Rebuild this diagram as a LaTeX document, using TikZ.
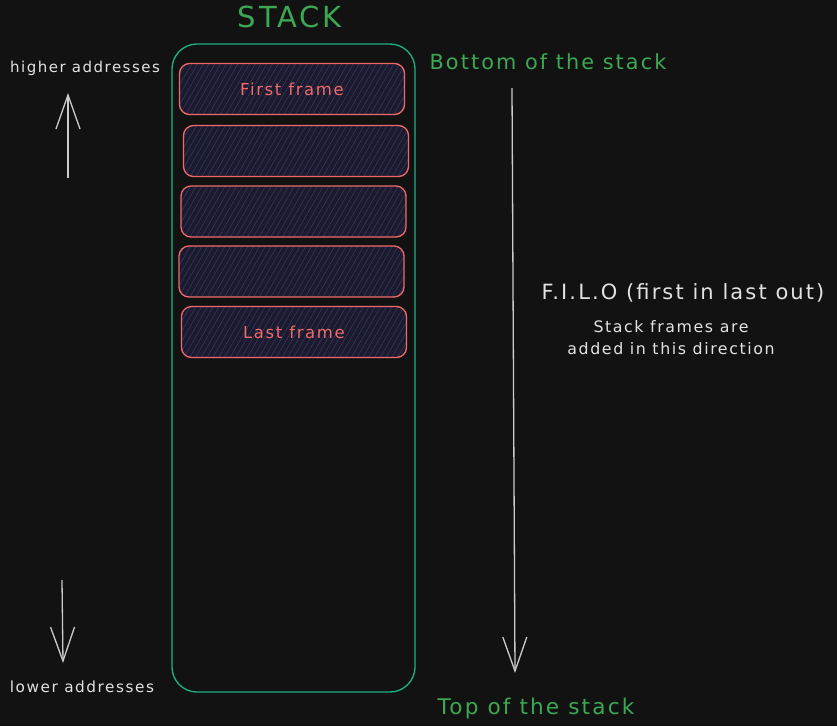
\documentclass[tikz,border=0pt]{standalone}
\usepackage{fontspec}
\setmainfont{DejaVu Sans}[LetterSpace=10]
\usetikzlibrary{arrows.meta,patterns.meta}
\definecolor{bgdark}{HTML}{121212}
\definecolor{txtlight}{HTML}{E2E2E2}
\definecolor{stackgreen}{HTML}{3DA853}
\definecolor{stackteal}{HTML}{20B386}
\definecolor{framered}{HTML}{F06A69}
\definecolor{framefill}{HTML}{1B1A2E}
\definecolor{framehatch}{HTML}{38385F}
\newcommand{\stackframe}[4]{ \node[framebox] (#1) at ( #2 , #3 ) {#4};}
\tikzset{
  framebox/.style={draw=framered, line width=1.3pt, rounded corners=10pt,
    minimum width=225pt, minimum height=51pt, inner sep=0pt,
    preaction={fill=framefill},
    pattern={Lines[angle=60,distance=5pt,line width=0.6pt]}, pattern color=framehatch,
    text=framered, font=\fontsize{16.5}{19}\selectfont},
  stackbox/.style={draw=stackteal, line width=1.3pt, rounded corners=25pt,
    minimum width=243pt, minimum height=648pt, inner sep=0pt},
  greenlabel/.style={text=stackgreen, inner sep=0pt, font=\fontsize{21}{25}\selectfont},
  whitelabel/.style={text=txtlight, inner sep=0pt, font=\fontsize{15}{18}\selectfont},
  arrowline/.style={draw=txtlight!90!black, line width=1.3pt,
    -{Straight Barb[length=34pt,width=24pt,line width=1.3pt]}}
}
\begin{document}
\begin{tikzpicture}[x=1pt,y=-1pt]
        \fill[bgdark] (0,0) rectangle (837,726);
        \useasboundingbox (0,0) rectangle (837,726);
        % stack
        \node[greenlabel, font=\fontsize{29}{33}\selectfont] (stacktitle) at (290,17) {STACK};
        \node[stackbox] (stack) at (293.5,368) {};
        % frames
        \stackframe{first}{292}{89}{First frame}
        \stackframe{second}{296}{151}{}
        \stackframe{third}{293.5}{211.5}{}
        \stackframe{fourth}{291.5}{271.5}{}
        \stackframe{last}{294}{332}{Last frame}
        % right side
        \node[greenlabel, font=\fontsize{20.8}{25}\selectfont] (bottomlbl) at (548,62) {Bottom of the stack};
        \node[greenlabel, font=\fontsize{21.6}{25}\selectfont] (toplbl) at (536,709) {Top of the stack};
        \coordinate (filotail) at (512,88);
        \coordinate (filotip) at (515,673);
        \draw[arrowline] (filotail) -- (filotip);
        \node[whitelabel, font=\fontsize{21}{25}\selectfont] (filo) at (683,293) {F.I.L.O (first in last out)};
        \node[whitelabel, align=center, font=\fontsize{15.8}{22}\selectfont] (filonote) at (671,338) {Stack frames are\\added in this direction};
        % left side
        \node[whitelabel] (higher) at (85,68) {higher addresses};
        \node[whitelabel, font=\fontsize{15.3}{18}\selectfont] (lower) at (82,687) {lower addresses};
        \coordinate (uptail) at (68,178);
        \coordinate (uptip) at (68,93);
        \coordinate (downtail) at (62,580);
        \coordinate (downtip) at (63,663);
        \draw[arrowline] (uptail) -- (uptip);
        \draw[arrowline] (downtail) -- (downtip);
    \end{tikzpicture}
\end{document}
